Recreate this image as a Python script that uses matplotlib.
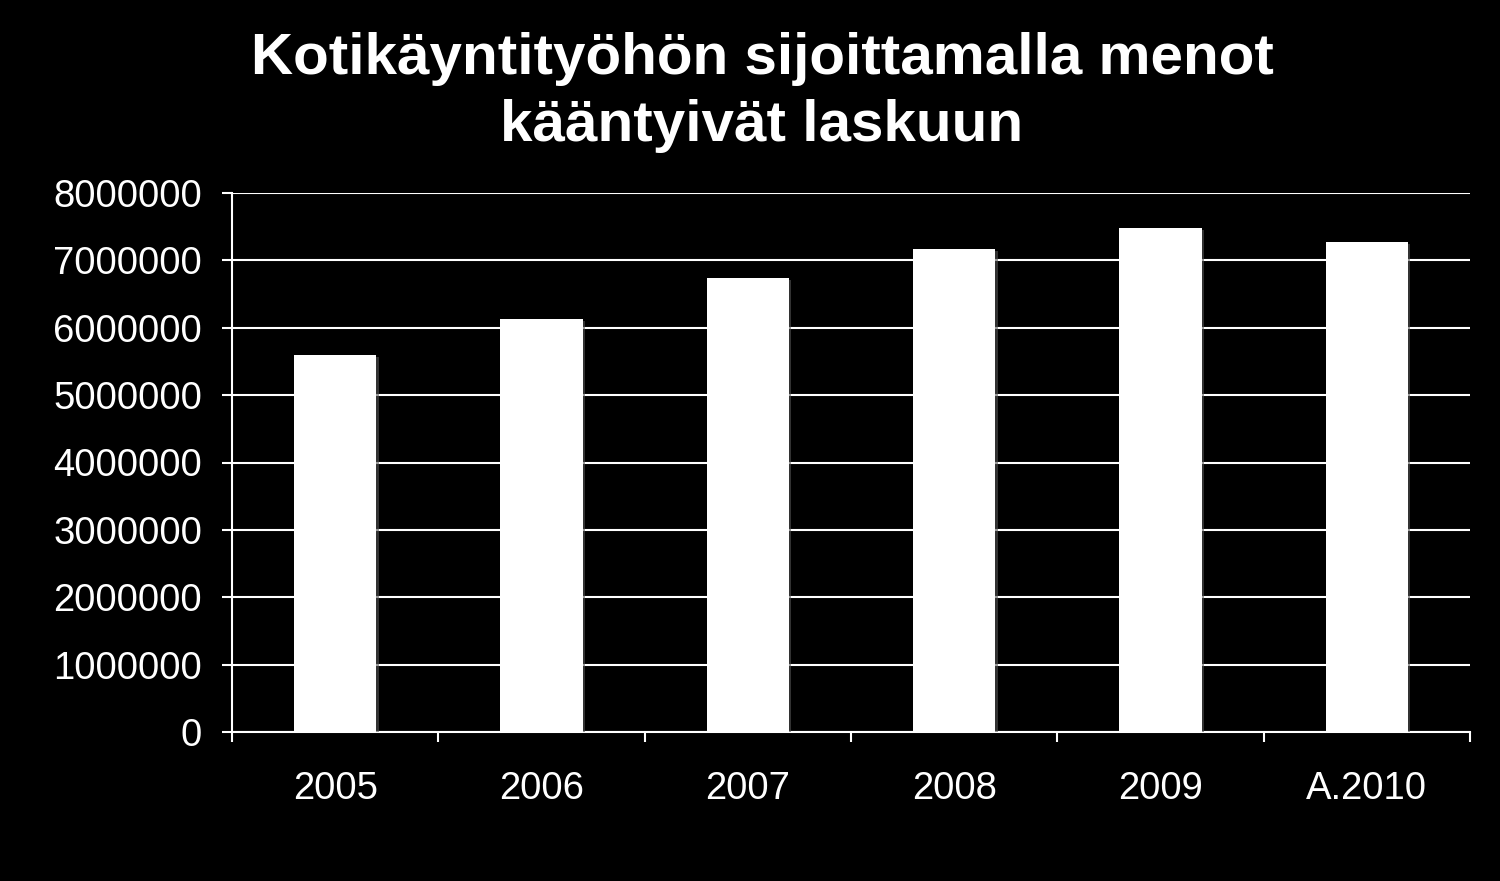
import matplotlib
matplotlib.use("Agg")
import matplotlib.pyplot as plt
import matplotlib.patheffects as pe
import numpy as np

plt.rcParams['font.family'] = ['Liberation Sans', 'DejaVu Sans']

# data
years = ["2005", "2006", "2007", "2008", "2009", "A.2010"]
menot = [5600000, 6130000, 6740000, 7170000, 7480000, 7270000]
yticks = np.arange(0, 8000001, 1000000)

title = "Kotikäyntityöhön sijoittamalla menot\nkääntyivät laskuun"

fig = plt.figure(figsize=(15, 8.81), dpi=100, facecolor='black')
ax = fig.add_axes([232/1500, 1 - 732/881, (1470-232)/1500, (732-193)/881])
ax.set_facecolor('black')

x = np.arange(len(years))
bars = ax.bar(x, menot, width=0.40, color='white', zorder=3)
for b in bars:
    b.set_path_effects([pe.SimplePatchShadow(offset=(1.5, -1.5), shadow_rgbFace='#555555', alpha=0.6),
                        pe.Normal()])

ax.set_xlim(-0.5, len(years) - 0.5)
ax.set_ylim(0, 8000000)
ax.set_yticks(yticks)
ax.set_yticklabels([str(v) for v in yticks])
ax.yaxis.grid(True, color='white', linewidth=1.5, zorder=1)
ax.set_axisbelow(True)

ax.set_xticks(x)
ax.set_xticklabels(years)
ax.set_xticks(np.arange(-0.5, len(years)), minor=True)
ax.tick_params(axis='x', which='major', length=0, pad=28, labelsize=27.5, labelcolor='white')
ax.tick_params(axis='x', which='minor', length=7.5, width=1.5, color='white', direction='out')
ax.tick_params(axis='y', length=7.5, width=1.5, color='white', direction='out',
               labelsize=27.5, labelcolor='white', pad=14)

for s in ['top', 'right']:
    ax.spines[s].set_visible(False)
for s in ['left', 'bottom']:
    ax.spines[s].set_color('white')
    ax.spines[s].set_linewidth(1.5)

fig.text(762/1500, 1 - 32/881, title, ha='center', va='top', color='white',
         fontsize=42, fontweight='bold', linespacing=1.3)

fig.savefig("out.png", dpi=100, facecolor='black')
